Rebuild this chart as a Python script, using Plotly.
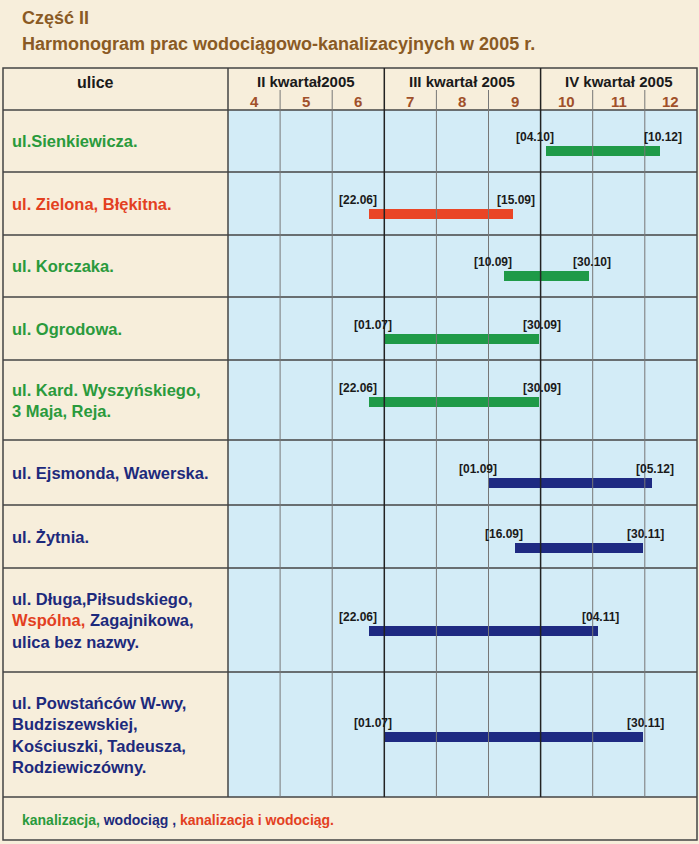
import plotly.graph_objects as go

months = [4, 5, 6, 7, 8, 9, 10, 11, 12]
quarters = ["II kwartał2005", "III kwartał 2005", "IV kwartał 2005"]
streets = [
    "<span style='color:#2a9a3c'>ul.Sienkiewicza.</span>",
    "<span style='color:#e3401f'>ul. Zielona, Błękitna.</span>",
    "<span style='color:#2a9a3c'>ul. Korczaka.</span>",
    "<span style='color:#2a9a3c'>ul. Ogrodowa.</span>",
    "<span style='color:#2a9a3c'>ul. Kard. Wyszyńskiego,<br>3 Maja, Reja.</span>",
    "<span style='color:#1d2a7c'>ul. Ejsmonda, Wawerska.</span>",
    "<span style='color:#1d2a7c'>ul. Żytnia.</span>",
    "<span style='color:#1d2a7c'>ul. Długa,Piłsudskiego,</span><br><span style='color:#e3401f'>Wspólna,</span><span style='color:#1d2a7c'> Zagajnikowa,<br>ulica bez nazwy.</span>",
    "<span style='color:#1d2a7c'>ul. Powstańców W-wy,<br>Budziszewskiej,<br>Kościuszki, Tadeusza,<br>Rodziewiczówny.</span>",
]
starts = ["04.10", "22.06", "10.09", "01.07", "22.06", "01.09", "16.09", "22.06", "01.07"]
ends = ["10.12", "15.09", "30.10", "30.09", "30.09", "05.12", "30.11", "04.11", "30.11"]
kinds = ["g", "r", "g", "g", "g", "b", "b", "b", "b"]

COL = {"g": "#1f9a48", "r": "#ea4526", "b": "#1e2a82"}
DAYS = {4: 30, 5: 31, 6: 30, 7: 31, 8: 31, 9: 30, 10: 31, 11: 30, 12: 31}

W, H = 699, 844
X0, MW = 228, 52.1
row_edges = [110, 172, 235, 297, 360, 440, 505, 568, 672, 797]
bar_y = [151, 214, 276, 339, 402, 483, 548, 631, 737]

def px(v):
    return X0 + (v - 4) * MW

def mval(s):
    d, m = s.split(".")
    d, m = int(d), int(m)
    return m + (d - 1) / DAYS[m]

fig = go.Figure()
shapes, ann = [], []
bg = "#f7eedb"
blue = "#d3ecf7"
line = "#444444"
shapes.append(dict(type="rect", x0=px(4), x1=px(13), y0=68, y1=797, fillcolor=blue, line_width=0, layer="below"))
shapes.append(dict(type="rect", x0=px(4), x1=px(13), y0=68, y1=110, fillcolor=bg, line_width=0, layer="below"))
shapes.append(dict(type="rect", x0=3, x1=697, y0=68, y1=840, line=dict(color=line, width=1.5)))
for y in [110] + row_edges[1:]:
    shapes.append(dict(type="line", x0=3, x1=697, y0=y, y1=y, line=dict(color=line, width=1.5)))
shapes.append(dict(type="line", x0=X0, x1=X0, y0=68, y1=797, line=dict(color=line, width=1.5)))
for m in range(5, 13):
    q = m in (7, 10)
    shapes.append(dict(type="line", x0=px(m), x1=px(m), y0=68 if q else 90, y1=797,
                       line=dict(color="#222" if q else "#777", width=1.5 if q else 1)))

for i, q in enumerate(quarters):
    ann.append(dict(x=px(4 + 3 * i + 1.5), y=81, text=q, showarrow=False,
                    font=dict(size=15, color="#1a1a1a")))
for m in months:
    ann.append(dict(x=px(m + 0.5), y=101, text=str(m), showarrow=False,
                    font=dict(size=15, color="#a0502a")))
ann.append(dict(x=95, y=82, text="ulice", showarrow=False, font=dict(size=16, color="#1a1a1a")))

for i, s in enumerate(streets):
    ann.append(dict(x=10, y=(row_edges[i] + row_edges[i + 1]) / 2, text=s, showarrow=False,
                    xanchor="left", align="left", font=dict(size=16.5)))
    a, b = mval(starts[i]), mval(ends[i])
    fig.add_trace(go.Bar(x=[px(b) - px(a)], base=[px(a)], y=[bar_y[i]], orientation="h",
                         width=10, marker=dict(color=COL[kinds[i]], line_width=0),
                         showlegend=False, hoverinfo="skip"))
    ann.append(dict(x=px(a) + 10, y=bar_y[i] - 14, text="[" + starts[i] + "]", xanchor="right",
                    showarrow=False, font=dict(size=12, color="#1a1a1a")))
    ann.append(dict(x=px(b) - 18, y=bar_y[i] - 14, text="[" + ends[i] + "]", xanchor="left",
                    showarrow=False, font=dict(size=12, color="#1a1a1a")))

ann.append(dict(x=20, y=820, xanchor="left", showarrow=False, font=dict(size=14),
                text="<span style='color:#2a9a3c'>kanalizacja, </span><span style='color:#1d2a7c'>wodociąg , </span><span style='color:#e3401f'>kanalizacja i wodociąg.</span>"))
ann.append(dict(x=20, y=18, xanchor="left", showarrow=False, font=dict(size=18, color="#8a5a24"), text="Część II"))
ann.append(dict(x=20, y=44, xanchor="left", showarrow=False, font=dict(size=18, color="#8a5a24"),
                text="Harmonogram prac wodociągowo-kanalizacyjnych w 2005 r."))

fig.update_layout(width=W, height=H, margin=dict(l=0, r=0, t=0, b=0),
                  paper_bgcolor=bg, plot_bgcolor=bg, shapes=shapes, annotations=ann,
                  font=dict(family="Liberation Sans", size=14),
                  xaxis=dict(range=[0, W], visible=False, fixedrange=True),
                  yaxis=dict(range=[H, 0], visible=False, fixedrange=True), bargap=0)
fig.update_annotations(font_family="Liberation Sans")
for a in fig.layout.annotations:
    a.text = "<b>" + a.text + "</b>"
fig.write_html("out.html", config={"displayModeBar": False},
               post_script="document.body.style.margin='0';document.body.style.overflow='hidden';document.documentElement.style.overflow='hidden';")
